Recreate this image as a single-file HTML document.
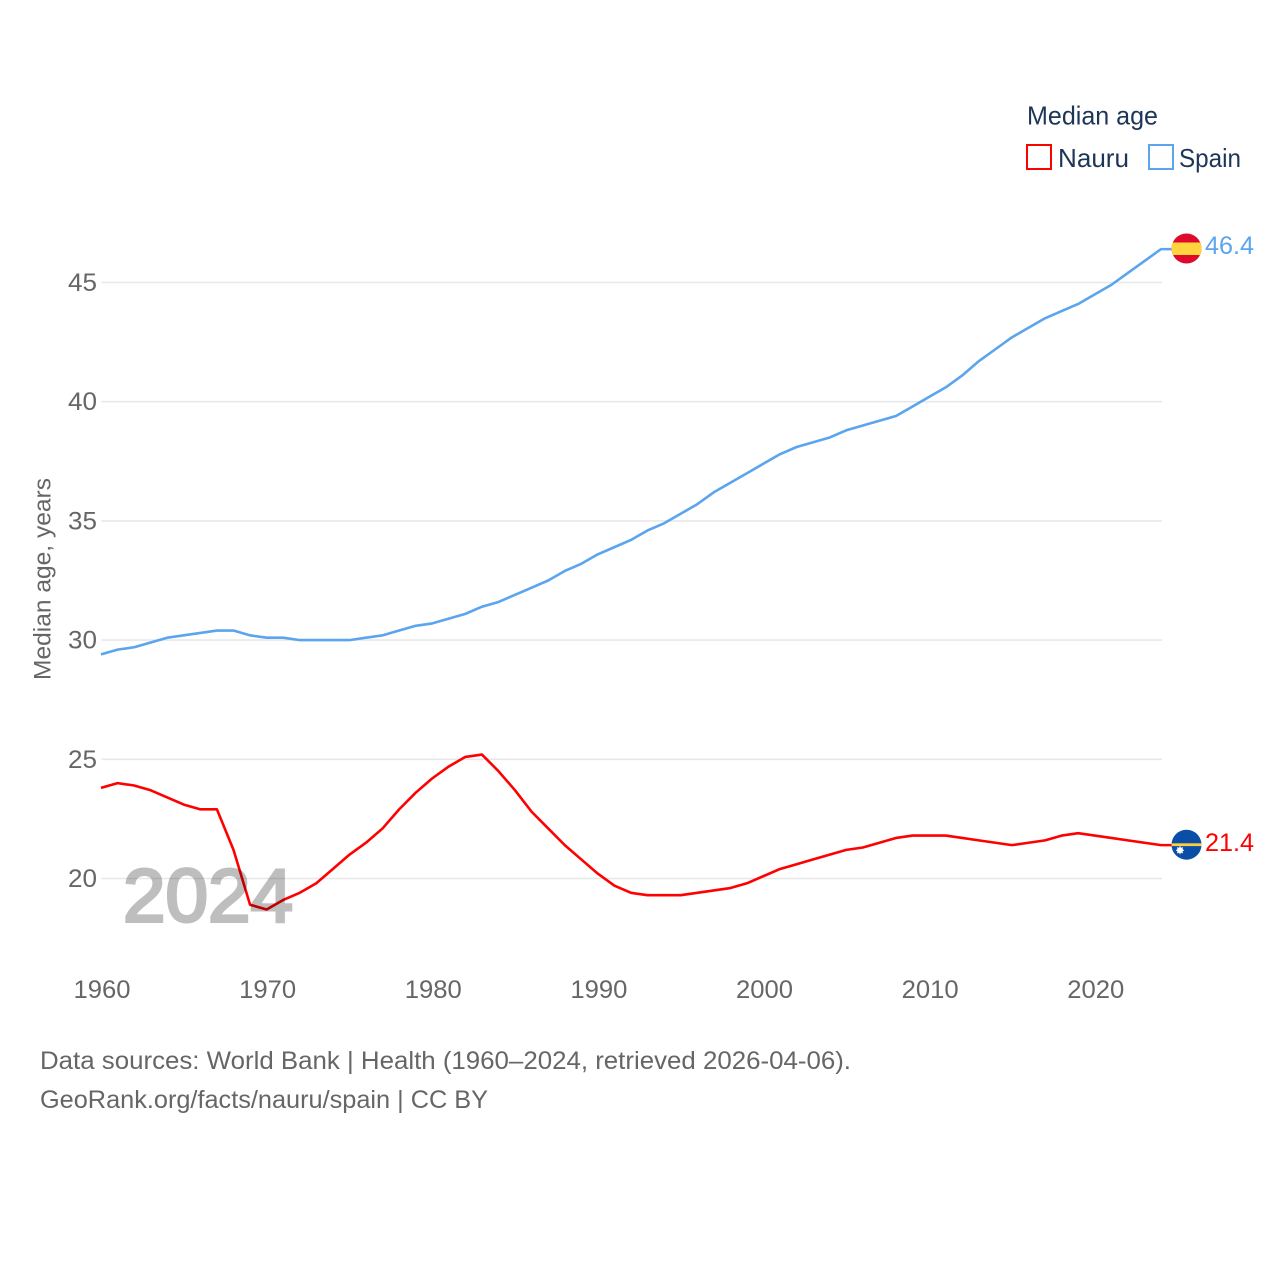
<!DOCTYPE html>
<html lang="en">
<head>
<meta charset="utf-8">
<title>Median age: Nauru and Spain</title>
<style>
html,body{margin:0;padding:0;background:#fff;width:1280px;height:1280px;overflow:hidden}
svg{display:block}
text{font-family:"Liberation Sans",sans-serif}
</style>
</head>
<body>
<svg id="chart" width="1280" height="1280" viewBox="0 0 1280 1280" xmlns="http://www.w3.org/2000/svg">
  <defs>
    <clipPath id="clip-es"><circle cx="1186.5" cy="248.5" r="15"/></clipPath>
    <clipPath id="clip-nr"><circle cx="1186.5" cy="844.7" r="15"/></clipPath>
  </defs>
  <g id="grid"></g>
  <g id="y-ticks"></g>
  <g id="x-ticks"></g>
  <text transform="translate(50.5,579) rotate(-90)" text-anchor="middle" font-size="24.5" fill="#666" textLength="202" lengthAdjust="spacingAndGlyphs">Median age, years</text>
  <path id="line-nauru" fill="none" stroke="#ff0000" stroke-width="2.6" stroke-linejoin="round"/>
  <path id="line-spain" fill="none" stroke="#5ba4ee" stroke-width="2.6" stroke-linejoin="round"/>
  <text x="123" y="921.5" font-size="75" fill="#000" stroke="#000" stroke-width="3" opacity="0.25" textLength="170" lengthAdjust="spacingAndGlyphs">2024</text>

  <g clip-path="url(#clip-es)">
    <rect x="1171" y="233" width="31" height="31" fill="#dd0a2c"/>
    <rect x="1171" y="242.5" width="31" height="12.5" fill="#ffd43f"/>
  </g>
  <text id="label-spain" x="1205" y="254" font-size="25" fill="#5ba4ee" textLength="49" lengthAdjust="spacingAndGlyphs">46.4</text>

  <g clip-path="url(#clip-nr)">
    <rect x="1171" y="829" width="31" height="31" fill="#0b4ea8"/>
    <rect x="1171" y="843.3" width="31" height="2.8" fill="#fdcf3c"/>
    <circle cx="1180" cy="850.3" r="3" fill="#fff"/>
    <path d="M1180 846.3V854.3M1176 850.3H1184M1177.2 847.5L1182.8 853.1M1182.8 847.5L1177.2 853.1" stroke="#fff" stroke-width="1"/>
  </g>
  <text id="label-nauru" x="1205" y="851" font-size="25" fill="#ff0000" textLength="49" lengthAdjust="spacingAndGlyphs">21.4</text>

  <g>
    <text x="1027" y="124.5" font-size="26" fill="#1d3557" textLength="131" lengthAdjust="spacingAndGlyphs">Median age</text>
    <rect x="1027" y="145" width="24" height="24" fill="none" stroke="#ff0000" stroke-width="2"/>
    <text x="1058" y="167" font-size="26" fill="#1d3557" textLength="71" lengthAdjust="spacingAndGlyphs">Nauru</text>
    <rect x="1149" y="145" width="24" height="24" fill="none" stroke="#5ba4ee" stroke-width="2"/>
    <text x="1179" y="167" font-size="26" fill="#1d3557" textLength="62" lengthAdjust="spacingAndGlyphs">Spain</text>
  </g>

  <text x="40" y="1069" font-size="25" fill="#666" textLength="811" lengthAdjust="spacingAndGlyphs">Data sources: World Bank | Health (1960–2024, retrieved 2026-04-06).</text>
  <text x="40" y="1108" font-size="25" fill="#666" textLength="448" lengthAdjust="spacingAndGlyphs">GeoRank.org/facts/nauru/spain | CC BY</text>
</svg>
<script>
const years = [1960,1961,1962,1963,1964,1965,1966,1967,1968,1969,1970,1971,1972,1973,1974,1975,1976,1977,1978,1979,1980,1981,1982,1983,1984,1985,1986,1987,1988,1989,1990,1991,1992,1993,1994,1995,1996,1997,1998,1999,2000,2001,2002,2003,2004,2005,2006,2007,2008,2009,2010,2011,2012,2013,2014,2015,2016,2017,2018,2019,2020,2021,2022,2023,2024];
const spainValues = [29.4,29.6,29.7,29.9,30.1,30.2,30.3,30.4,30.4,30.2,30.1,30.1,30.0,30.0,30.0,30.0,30.1,30.2,30.4,30.6,30.7,30.9,31.1,31.4,31.6,31.9,32.2,32.5,32.9,33.2,33.6,33.9,34.2,34.6,34.9,35.3,35.7,36.2,36.6,37.0,37.4,37.8,38.1,38.3,38.5,38.8,39.0,39.2,39.4,39.8,40.2,40.6,41.1,41.7,42.2,42.7,43.1,43.5,43.8,44.1,44.5,44.9,45.4,45.9,46.4];
const nauruValues = [23.8,24.0,23.9,23.7,23.4,23.1,22.9,22.9,21.2,18.9,18.7,19.1,19.4,19.8,20.4,21.0,21.5,22.1,22.9,23.6,24.2,24.7,25.1,25.2,24.5,23.7,22.8,22.1,21.4,20.8,20.2,19.7,19.4,19.3,19.3,19.3,19.4,19.5,19.6,19.8,20.1,20.4,20.6,20.8,21.0,21.2,21.3,21.5,21.7,21.8,21.8,21.8,21.7,21.6,21.5,21.4,21.5,21.6,21.8,21.9,21.8,21.7,21.6,21.5,21.4];
const yTickValues = [20,25,30,35,40,45];
const xTickValues = [1960,1970,1980,1990,2000,2010,2020];

function xScale(year){ return 101 + (year - 1960) * (1161 - 101) / 64; }
function yScale(v){ return 878.5 - (v - 20) * (878.5 - 282.5) / 25; }

const NS = 'http://www.w3.org/2000/svg';
const gridGroup = document.getElementById('grid');
const yGroup = document.getElementById('y-ticks');
const xGroup = document.getElementById('x-ticks');

yTickValues.forEach(function(v){
  const line = document.createElementNS(NS,'line');
  
  
  line.setAttribute('x1', 101.5);
  line.setAttribute('x2', 1162);
  line.setAttribute('y1', yScale(v));
  line.setAttribute('y2', yScale(v));
  line.setAttribute('stroke', '#e8e8e8');
  line.setAttribute('stroke-width', '1.6');
  gridGroup.appendChild(line);

  const t = document.createElementNS(NS,'text');
  
  
  t.setAttribute('x', 68);
  t.setAttribute('y', yScale(v) + 8.5);
  t.setAttribute('font-size', '25');
  t.setAttribute('fill', '#666');
  t.setAttribute('textLength', '29');
  t.setAttribute('lengthAdjust', 'spacingAndGlyphs');
  t.textContent = String(v);
  yGroup.appendChild(t);
});

xTickValues.forEach(function(y){
  const t = document.createElementNS(NS,'text');
  
  
  t.setAttribute('x', xScale(y) - 27.5);
  t.setAttribute('y', 998);
  t.setAttribute('font-size', '25');
  t.setAttribute('fill', '#666');
  t.setAttribute('textLength', '57');
  t.setAttribute('lengthAdjust', 'spacingAndGlyphs');
  t.textContent = String(y);
  xGroup.appendChild(t);
});

function linePath(values){
  let d = values.map(function(v,i){
    return (i ? 'L' : 'M') + xScale(years[i]).toFixed(2) + ' ' + yScale(v).toFixed(2);
  }).join(' ');
  d += ' H1180';
  return d;
}
document.getElementById('line-spain').setAttribute('d', linePath(spainValues));
document.getElementById('line-nauru').setAttribute('d', linePath(nauruValues));
document.getElementById('label-spain').textContent = spainValues[spainValues.length-1].toFixed(1);
document.getElementById('label-nauru').textContent = nauruValues[nauruValues.length-1].toFixed(1);
</script>
</body>
</html>
